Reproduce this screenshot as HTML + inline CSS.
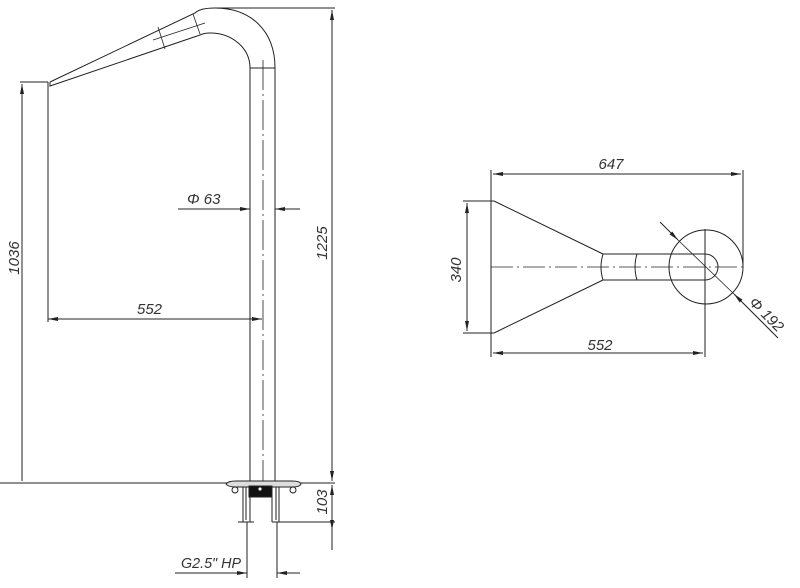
<!DOCTYPE html>
<html><head><style>body{margin:0;background:#fff}svg{display:block}text{font-family:"Liberation Sans",sans-serif;font-style:italic;font-size:15px;fill:#333}</style></head><body>
<svg width="800" height="588" viewBox="0 0 800 588" xmlns="http://www.w3.org/2000/svg">
<defs><marker id="a" viewBox="0 0 10 4" refX="10" refY="2" markerWidth="12" markerHeight="4" markerUnits="userSpaceOnUse" orient="auto-start-reverse"><path d="M0,0L10,2L0,4z" fill="#222"/></marker></defs>
<g stroke="#222" stroke-width="1" fill="none">
<path d="M250,483V68"/><path d="M275,483V68"/><path d="M250,68H275"/>
<path d="M275,68C275,30 250,8 215,8C205,8 198,10 195,13L50,82"/>
<path d="M250,68C250,48 232,33 210,33C205,33 202,34 200,35L50,86L50,82"/>
<path d="M158,27L165,49M193,14L200,34M153,40L205,23" stroke-width=".8"/>
<path d="M263,60V483" stroke-dasharray="30,4,2,4" stroke-width=".8"/>
<path d="M0,483H335M215,8H335M20,82H48M48,82V322M285,522H335"/>
<path d="M332,10V481" marker-start="url(#a)" marker-end="url(#a)"/>
<path d="M22,84V481" marker-start="url(#a)"/>
<path d="M48,319H262" marker-start="url(#a)" marker-end="url(#a)"/>
<path d="M178,209H250" marker-end="url(#a)"/><path d="M300,209H275" marker-end="url(#a)"/>
<path d="M332,485V550" marker-start="url(#a)"/><path d="M332,522V530" marker-end="url(#a)"/>
<path d="M247,522V578M277,522V578"/>
<path d="M175,573H247" marker-end="url(#a)"/><path d="M300,573H277" marker-end="url(#a)"/>
<path d="M226,484Q228,481 236,481H292Q300,481 301,484Q300,487 292,487H236Q228,487 226,484z" fill="#ddd"/>
<rect x="249" y="486" width="23" height="11" fill="#111"/>
<path d="M243,487V522M250,497V522M272,497V522M279,487V522M238,522H254M272,522H287M246,487V520M276,487V520"/>
<circle cx="235" cy="490" r="3"/><circle cx="293" cy="490" r="3"/><circle cx="260" cy="489" r="2" fill="#fff"/>
<path d="M491,170V357M743,170V267M705,229V357M463,201H494M463,333H494"/>
<path d="M493,174H741" marker-start="url(#a)" marker-end="url(#a)"/>
<path d="M493,353H703" marker-start="url(#a)" marker-end="url(#a)"/>
<path d="M467,203V331" marker-start="url(#a)" marker-end="url(#a)"/>
<path d="M494,201L603,254M494,333L603,280M603,254H705M603,280H705M705,254A13,13 0 0 1 705,280"/>
<path d="M603,254Q599,267 603,280M637,254Q633,267 637,280"/>
<circle cx="706" cy="267" r="37"/>
<path d="M491,267H743" stroke-dasharray="22,4,2,4" stroke-width=".8"/>
<path d="M660,222L678,240" marker-end="url(#a)"/><path d="M734,294L778,338" marker-start="url(#a)"/><path d="M678,240L734,294" stroke-width=".8"/>
</g>
<text x="187" y="204">Φ 63</text>
<text x="137" y="314">552</text>
<text x="181" y="568" textLength="60" lengthAdjust="spacingAndGlyphs">G2.5" HP</text>
<text transform="translate(19,258) rotate(-90)" text-anchor="middle">1036</text>
<text transform="translate(327,243) rotate(-90)" text-anchor="middle">1225</text>
<text transform="translate(327,502) rotate(-90)" text-anchor="middle">103</text>
<text x="611" y="169" text-anchor="middle">647</text>
<text x="600" y="350" text-anchor="middle">552</text>
<text transform="translate(461,270) rotate(-90)" text-anchor="middle">340</text>
<text transform="translate(763,318) rotate(45)" text-anchor="middle">Φ 192</text>
</svg>
</body></html>
